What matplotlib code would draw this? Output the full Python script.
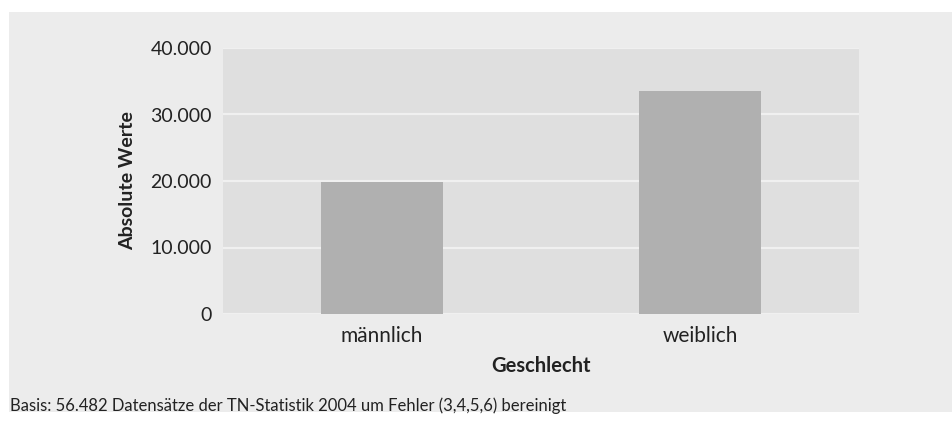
import matplotlib
matplotlib.use("Agg")
import matplotlib.pyplot as plt
from matplotlib.patches import Rectangle
from matplotlib.ticker import FuncFormatter

# data
categories = ["männlich", "weiblich"]
values = [19850, 33530]
y_ticks = [0, 10000, 20000, 30000, 40000]

plt.rcParams["font.family"] = ["Lato", "DejaVu Sans"]

fig = plt.figure(figsize=(9.52, 4.21), dpi=100)
fig.patch.set_facecolor("white")

# grey panel behind everything (white margin at top and left)
fig.patches.append(Rectangle((9 / 952, 9 / 421), 1 - 9 / 952, 1 - 21 / 421,
                             transform=fig.transFigure, facecolor="#ececec",
                             edgecolor="none", zorder=-10))

ax = fig.add_axes([223 / 952, 107 / 421, 636 / 952, 266 / 421])
ax.set_facecolor("#dfdfdf")

x = range(len(categories))
ax.bar(x, values, width=0.384, color="#b0b0b0", zorder=3)

ax.set_xlim(-0.5, 1.5)
ax.set_ylim(0, 40000)
ax.set_yticks(y_ticks)
ax.yaxis.set_major_formatter(FuncFormatter(lambda v, p: f"{int(v):,}".replace(",", ".")))
ax.set_xticks(list(x))
ax.set_xticklabels(categories)

ax.grid(axis="y", color="#f0f0f0", linewidth=1.6, zorder=1)
ax.set_axisbelow(True)
for s in ax.spines.values():
    s.set_visible(False)
ax.tick_params(length=0, colors="#222222")
ax.tick_params(axis="y", pad=8, labelsize=14)
ax.tick_params(axis="x", pad=9, labelsize=15)

ax.set_ylabel("Absolute Werte", fontsize=14, fontweight="bold", color="#222222", labelpad=10)
ax.set_xlabel("Geschlecht", fontsize=14.5, fontweight="bold", color="#222222", labelpad=7)

fig.text(10 / 952, 1 - 406 / 421, "Basis: 56.482 Datensätze der TN-Statistik 2004 um Fehler (3,4,5,6) bereinigt",
         fontsize=12, color="#222222", ha="left", va="center")

fig.savefig("out.png", dpi=100, facecolor=fig.get_facecolor())
